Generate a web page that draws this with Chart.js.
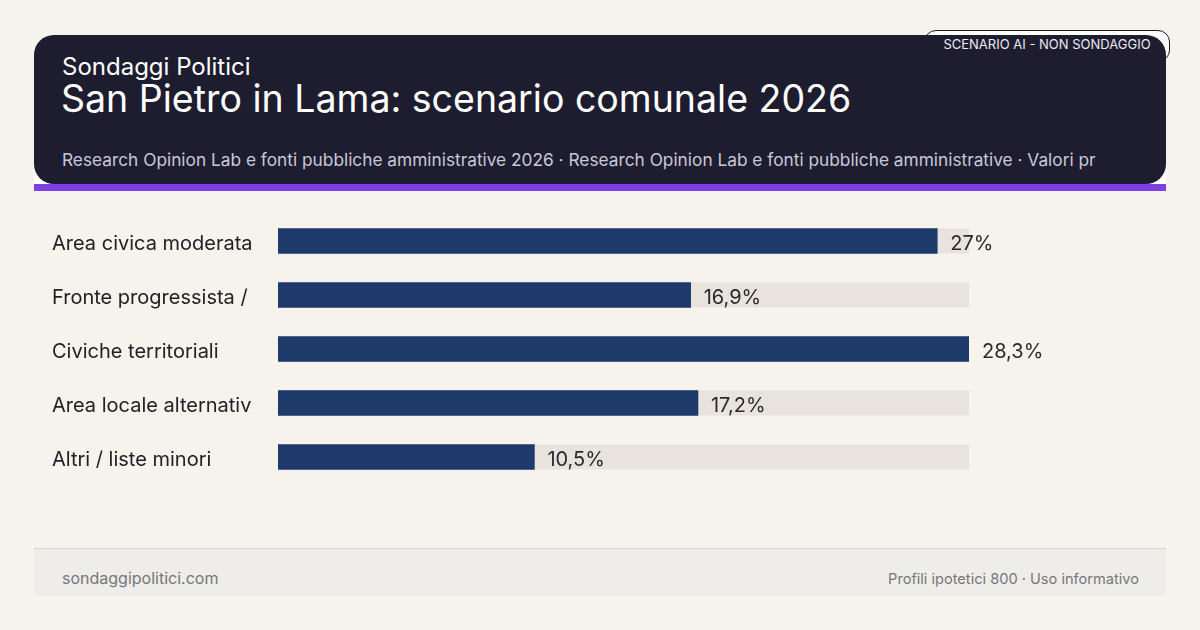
<!DOCTYPE html>
<html>
<head>
<meta charset="utf-8">
<script src="https://cdn.jsdelivr.net/npm/chart.js@4"></script>
<style>
  html, body { margin:0; padding:0; }
  body { width:1200px; height:630px; background:#f6f3ec; position:relative; overflow:hidden; font-family: Inter, "Noto Sans", sans-serif; }
  .hdr-white { position:absolute; left:34px; top:100px; width:1132px; height:84px; background:#ffffff; }
  .badge-bg { position:absolute; left:924px; top:30px; width:246px; height:32px; background:#ffffff; border:1px solid #1a1a22; border-radius:12px; box-sizing:border-box; }
  .hdr { position:absolute; left:34px; top:35px; width:1132px; height:149px; background:#1e1d2f; border-radius:20px; overflow:hidden; }
  .stripe { position:absolute; left:34px; top:184px; width:1132px; height:7px; background:#7b3fe3; }
  .kicker { position:absolute; left:28px; top:18px; font-size:24px; color:#ffffff; line-height:28px; white-space:nowrap; }
  .title { position:absolute; left:27px; top:41px; font-size:37.5px; color:#ffffff; line-height:46px; white-space:nowrap; }
  .sub { position:absolute; left:28px; top:114px; width:1034px; overflow:hidden; font-size:17.3px; color:#c9c8d8; line-height:22px; white-space:nowrap; }
  .badge { position:absolute; left:924px; top:31px; width:246px; height:27px; color:#eceaf4; font-size:13px; line-height:27px; text-align:center; white-space:nowrap; }
  .fline { position:absolute; left:34px; top:548px; width:1132px; height:1px; background:#d8d5cf; }
  .foot { position:absolute; left:34px; top:549px; width:1132px; height:47px; background:#efede9; }
  .fl { position:absolute; left:28px; top:19px; font-size:16px; line-height:20px; color:#77767a; }
  .fr { position:absolute; right:27px; top:20px; font-size:14.6px; line-height:20px; color:#77767a; }
  #wrap { position:absolute; left:0; top:214px; width:1200px; height:270px; }
</style>
</head>
<body>
<div class="hdr-white"></div>
<div class="badge-bg"></div>
<div class="hdr">
  <div class="kicker">Sondaggi Politici</div>
  <div class="title">San Pietro in Lama: scenario comunale 2026</div>
  <div class="sub">Research Opinion Lab e fonti pubbliche amministrative 2026 · Research Opinion Lab e fonti pubbliche amministrative · Valori proiettati</div>
</div>
<div class="stripe"></div>
<div class="badge">SCENARIO AI - NON SONDAGGIO</div>
<div id="wrap"><canvas id="c"></canvas></div>
<div class="fline"></div>
<div class="foot">
  <div class="fl">sondaggipolitici.com</div>
  <div class="fr">Profili ipotetici 800 · Uso informativo</div>
</div>
<script>
const categories = ["Area civica moderata", "Fronte progressista /", "Civiche territoriali", "Area locale alternativ", "Altri / liste minori"];
const values = [27, 16.9, 28.3, 17.2, 10.5];
const scaleMax = 28.3;

const fmt = v => String(v).replace('.', ',') + '%';

const trackPlugin = {
  id: 'track',
  beforeDatasetsDraw(chart) {
    const ctx = chart.ctx;
    const area = chart.chartArea;
    const meta = chart.getDatasetMeta(0);
    ctx.save();
    ctx.fillStyle = '#e8e3dc';
    meta.data.forEach(bar => {
      const h = bar.height;
      ctx.fillRect(area.left, bar.y - h / 2, area.right - area.left, h);
    });
    ctx.restore();
  }
};

const valuePlugin = {
  id: 'values',
  afterDatasetsDraw(chart) {
    const ctx = chart.ctx;
    const meta = chart.getDatasetMeta(0);
    ctx.save();
    ctx.font = '20px Inter, "Noto Sans", sans-serif';
    ctx.fillStyle = '#2a2a2e';
    ctx.textAlign = 'left';
    ctx.textBaseline = 'middle';
    meta.data.forEach((bar, i) => {
      ctx.fillText(fmt(values[i]), bar.x + 13, bar.y + 3);
    });
    ctx.restore();
  }
};

new Chart(document.getElementById('c'), {
  type: 'bar',
  data: {
    labels: categories,
    datasets: [{
      data: values,
      backgroundColor: '#1d3a6b',
      borderWidth: 0,
      barThickness: 25
    }]
  },
  options: {
    indexAxis: 'y',
    responsive: true,
    maintainAspectRatio: false,
    animation: false,
    layout: { padding: { left: 52, right: 231, top: 0, bottom: 0 } },
    plugins: { legend: { display: false }, tooltip: { enabled: false } },
    scales: {
      x: { display: false, min: 0, max: scaleMax },
      y: {
        grid: { display: false },
        border: { display: false },
        afterFit(scale) { scale.width = 226; scale.paddingTop = 0; scale.paddingBottom = 0; },
        ticks: {
          crossAlign: 'far',
          padding: 0,
          labelOffset: 3,
          color: '#222226',
          font: { family: 'Inter, "Noto Sans", sans-serif', size: 20 }
        }
      }
    }
  },
  plugins: [trackPlugin, valuePlugin]
});
</script>
</body>
</html>
